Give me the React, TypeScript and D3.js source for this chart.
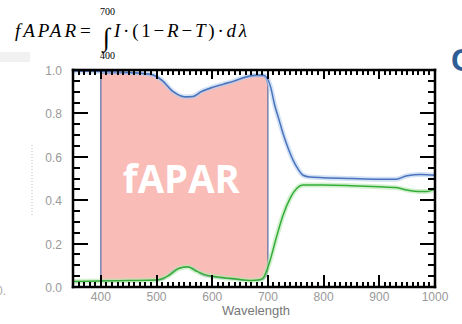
import React, { useEffect, useRef } from 'react';
import * as d3 from 'd3';

const width = 462;
const height = 324;
const margin = { top: 70, right: 27, bottom: 37, left: 73 };

// absorbed + transmitted (1 - R), blue curve
const blueWl = [350, 400, 450, 490, 510, 530, 550, 565, 580, 600, 620, 640, 660, 680, 692, 698, 705, 712, 720, 728, 737, 746, 755, 763, 775, 800, 850, 900, 930, 950, 975, 1000];
const blueValues = [0.995, 0.993, 0.99, 0.98, 0.952, 0.9, 0.877, 0.878, 0.9, 0.92, 0.935, 0.95, 0.968, 0.977, 0.976, 0.965, 0.92, 0.84, 0.77, 0.7, 0.635, 0.58, 0.54, 0.515, 0.507, 0.504, 0.5, 0.497, 0.497, 0.513, 0.518, 0.515];

// transmittance, green curve
const greenWl = [350, 400, 450, 500, 520, 540, 556, 570, 585, 610, 640, 670, 685, 691, 703, 715, 727, 740, 752, 763, 800, 850, 900, 930, 950, 970, 985, 1000];
const greenValues = [0.025, 0.028, 0.03, 0.032, 0.05, 0.085, 0.093, 0.075, 0.058, 0.046, 0.038, 0.03, 0.033, 0.04, 0.115, 0.227, 0.33, 0.41, 0.455, 0.47, 0.47, 0.467, 0.462, 0.458, 0.447, 0.44, 0.44, 0.452];

// fAPAR band, 400-700 nm
const bandWl = [400, 450, 490, 510, 530, 550, 565, 580, 600, 620, 640, 660, 680, 690, 696, 700];
const bandTop = [0.985, 0.985, 0.977, 0.95, 0.9, 0.875, 0.877, 0.898, 0.918, 0.933, 0.948, 0.965, 0.972, 0.972, 0.962, 0.93];
const bandBottom = [0.03, 0.03, 0.03, 0.033, 0.075, 0.092, 0.088, 0.058, 0.046, 0.04, 0.035, 0.03, 0.03, 0.034, 0.045, 0.08];

const xTicks = [400, 500, 600, 700, 800, 900, 1000];
const yTicks = [0, 0.2, 0.4, 0.6, 0.8, 1.0];
const xDomain = [350, 1000];
const yDomain = [0, 1];

const App = () => {
    const ref = useRef<SVGSVGElement>(null);

    useEffect(() => {
        const svg = d3.select(ref.current);
        svg.selectAll('*').remove();

        const x = d3.scaleLinear().domain(xDomain).range([margin.left, width - margin.right]);
        const y = d3.scaleLinear().domain(yDomain).range([height - margin.bottom, margin.top]);
        const plotB = height - margin.bottom;
        const plotT = margin.top;
        const plotL = margin.left;
        const plotR = width - margin.right;

        // faint slide leftovers
        svg.append('rect').attr('x', 0).attr('y', 52).attr('width', 30).attr('height', 10).attr('fill', '#f1f1f1');
        svg.append('line')
            .attr('x1', 32).attr('x2', 32).attr('y1', 145).attr('y2', 217)
            .attr('stroke', '#bbb').attr('stroke-dasharray', '1,2');
        svg.append('text').attr('x', -4).attr('y', 295).attr('fill', '#aaa')
            .style('font-family', 'Liberation Sans').style('font-size', '12px').text('0.');
        svg.append('text').attr('x', 451).attr('y', 70.5).attr('fill', '#2e5c96')
            .style('font-family', 'Liberation Sans').style('font-weight', 'bold').style('font-size', '32px').text('C');

        // formula
        const serif = 'Liberation Serif';
        svg.append('text').attr('x', 15).attr('y', 37)
            .style('font-family', serif).style('font-style', 'italic').style('font-size', '19px')
            .attr('textLength', 61).attr('lengthAdjust', 'spacing').text('fAPAR');
        svg.append('text').attr('x', 80).attr('y', 37)
            .style('font-family', serif).style('font-size', '19px').text('=');
        svg.append('text').attr('x', 103).attr('y', 46)
            .style('font-family', serif).style('font-size', '26px').text('\u222B');
        svg.append('text').attr('x', 100).attr('y', 15)
            .style('font-family', serif).style('font-size', '10px').text('700');
        svg.append('text').attr('x', 100).attr('y', 59)
            .style('font-family', serif).style('font-size', '10px').text('400');
        const rhs = svg.append('text').attr('x', 114).attr('y', 37)
            .style('font-family', serif).style('font-size', '19px')
            .attr('textLength', 133).attr('lengthAdjust', 'spacing');
        [['I', true], ['\u00B7(1\u2212', false], ['R', true], ['\u2212', false], ['T', true], [')\u00B7', false], ['d\u03BB', true]]
            .forEach(([t, it]) => {
                rhs.append('tspan').style('font-style', it ? 'italic' : 'normal').text(t as string);
            });

        // fAPAR band
        const band = d3.area<number>()
            .x((d, i) => x(bandWl[i]))
            .y0((d, i) => y(bandBottom[i]))
            .y1((d) => y(d))
            .curve(d3.curveMonotoneX);
        svg.append('path')
            .datum(bandTop)
            .attr('d', band)
            .attr('fill', '#f9bcb6')
            .attr('stroke', '#34579a')
            .attr('stroke-width', 1);

        svg.append('text')
            .attr('x', x(400) + 22).attr('y', 193)
            .attr('fill', '#fff')
            .style('font-family', 'Open Sans').style('font-weight', 'bold').style('font-size', '39px')
            .attr('textLength', 117).attr('lengthAdjust', 'spacingAndGlyphs')
            .text('fAPAR');

        // curves with a soft halo
        const drawCurve = (wl: number[], vals: number[], color: string, halo: string) => {
            const line = d3.line<number>()
                .x((d, i) => x(wl[i]))
                .y((d) => y(d))
                .curve(d3.curveMonotoneX);
            svg.append('path').datum(vals).attr('d', line)
                .attr('fill', 'none').attr('stroke', halo).attr('stroke-width', 5).attr('opacity', 0.6);
            svg.append('path').datum(vals).attr('d', line)
                .attr('fill', 'none').attr('stroke', color).attr('stroke-width', 1.5);
        };
        drawCurve(greenWl, greenValues, '#34ad37', '#b6e8b2');
        drawCurve(blueWl, blueValues, '#4a73bd', '#b8cff0');

        // inward ticks on all four sides
        const xMinor = d3.range(350, 1001, 10);
        const yMinor = d3.range(0, 1.001, 0.05);
        const majorX = (v: number) => xTicks.includes(v);
        const majorY = (v: number) => yTicks.some((t) => Math.abs(t - v) < 1e-6);
        const tickG = svg.append('g').attr('fill', '#000');

        tickG.selectAll('rect.xb').data(xMinor).join('rect').attr('class', 'xb')
            .attr('x', (d) => Math.round(x(d)) - 1).attr('width', 2)
            .attr('y', (d) => plotB - (majorX(d) ? 12 : 5))
            .attr('height', (d) => (majorX(d) ? 12 : 5));
        tickG.selectAll('rect.xt').data(xMinor).join('rect').attr('class', 'xt')
            .attr('x', (d) => Math.round(x(d)) - 1).attr('width', 2)
            .attr('y', plotT)
            .attr('height', (d) => (majorX(d) ? 9 : 5));
        tickG.selectAll('rect.yl').data(yMinor).join('rect').attr('class', 'yl')
            .attr('y', (d) => Math.round(y(d)) - 1).attr('height', 2)
            .attr('x', plotL)
            .attr('width', (d) => (majorY(d) ? 15 : 7));
        tickG.selectAll('rect.yr').data(yMinor).join('rect').attr('class', 'yr')
            .attr('y', (d) => Math.round(y(d)) - 1).attr('height', 2)
            .attr('x', (d) => plotR - (majorY(d) ? 15 : 7))
            .attr('width', (d) => (majorY(d) ? 15 : 7));

        // plot frame as four bars
        const fw = 2.5;
        const frame = [
            [plotL - fw / 2, plotT - fw / 2, plotR - plotL + fw, fw],
            [plotL - fw / 2, plotB - fw / 2, plotR - plotL + fw, fw],
            [plotL - fw / 2, plotT - fw / 2, fw, plotB - plotT + fw],
            [plotR - fw / 2, plotT - fw / 2, fw, plotB - plotT + fw],
        ];
        tickG.selectAll('rect.frame').data(frame).join('rect').attr('class', 'frame')
            .attr('x', (d) => d[0]).attr('y', (d) => d[1])
            .attr('width', (d) => d[2]).attr('height', (d) => d[3]);

        // tick labels
        const labelFont = (s: d3.Selection<any, any, any, any>) => s
            .attr('fill', '#999')
            .style('font-family', 'Liberation Sans')
            .style('font-size', '12px');
        svg.append('g').selectAll('text').data(xTicks).join('text')
            .attr('x', (d) => x(d)).attr('y', plotB + 14)
            .attr('text-anchor', 'middle')
            .text((d) => d3.format('d')(d))
            .call(labelFont);
        svg.append('g').selectAll('text').data(yTicks).join('text')
            .attr('x', plotL - 11).attr('y', (d) => y(d) + 5)
            .attr('text-anchor', 'end')
            .text((d) => d3.format('.1f')(d))
            .call(labelFont);

        svg.append('text')
            .attr('x', (plotL + plotR) / 2 + 2).attr('y', 315)
            .attr('text-anchor', 'middle').attr('fill', '#777')
            .style('font-family', 'Liberation Sans').style('font-size', '13px')
            .text('Wavelength');
    }, []);

    return (
        <svg
            ref={ref}
            width={width}
            height={height}
            style={{ position: 'absolute', left: 0, top: 0, background: '#fff' }}
        />
    );
};

export default App;
